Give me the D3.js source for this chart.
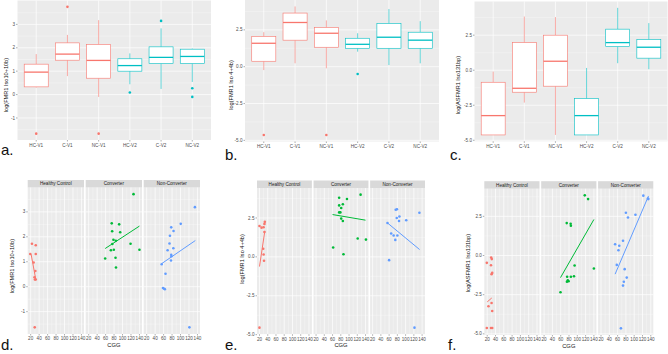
<!DOCTYPE html>
<html>
<head>
<meta charset="utf-8">
<script src="https://cdn.jsdelivr.net/npm/d3@7"></script>
<style>
  body { margin: 0; background: #fff; }
  svg text { font-family: "Liberation Sans", Arial, sans-serif; }
</style>
</head>
<body>
<svg id="fig" width="668" height="354"></svg>
<script>
// ---- data ----
const cats = ["HC-V1", "C-V1", "NC-V1", "HC-V2", "C-V2", "NC-V2"];
// box stats per category: [lower whisker, q1, median, q3, upper whisker]
const boxA = [[0.30, 0.33, 0.96, 1.30, 1.73], [0.79, 1.47, 1.73, 2.21, 2.55], [-0.10, 0.70, 1.46, 2.14, 3.18],
              [0.44, 1.00, 1.24, 1.53, 1.76], [0.24, 1.33, 1.59, 2.04, 2.83], [0.54, 1.33, 1.63, 1.94, 1.97]];
const outA = [["HC-V1", -1.67], ["C-V1", 3.75], ["NC-V1", -1.67], ["HC-V2", 0.09], ["C-V2", 3.15], ["NC-V2", 0.27], ["NC-V2", -0.10]];
const boxB = [[-0.23, 0.37, 1.59, 2.05, 2.34], [0.23, 1.80, 3.00, 3.64, 4.09], [-0.11, 1.32, 2.27, 2.66, 3.14],
              [1.02, 1.25, 1.52, 1.93, 2.27], [0.11, 1.25, 2.00, 2.93, 3.91], [0.23, 1.25, 1.80, 2.34, 3.09]];
const outB = [["HC-V1", -4.64], ["NC-V1", -4.64], ["HC-V2", -0.50]];
const boxC = [[-4.62, -4.62, -3.24, -0.86, -0.10], [-2.31, -1.57, -1.29, 1.97, 3.83], [-4.62, -1.14, 0.64, 2.50, 3.79],
              [-4.62, -4.62, -3.24, -2.03, 0.16], [0.50, 1.69, 1.97, 2.93, 4.45], [0.07, 0.86, 1.64, 2.19, 3.36]];
const outC = [];

const groups = ["Healthy Control", "Converter", "Non-Converter"];
const cggTicks = [20, 40, 60, 80, 100, 120, 140];
const ticksA = [-1, 0, 1, 2, 3];
const ticks25 = [-5, -2.5, 0, 2.5];

// scatter points [CGG, value] per group
const ptsD = [
  [[23, 1.72], [32, 1.66], [19, 1.31], [32, 1.31], [27, 0.97], [31, 0.63], [29, 0.38], [30, 0.29], [32, 0.29], [29.5, -1.63]],
  [[126, 3.71], [74.5, 2.54], [92, 2.50], [75.5, 2.22], [94.5, 2.18], [78.5, 1.88], [84, 1.84], [76, 1.71], [119, 1.72],
   [79.5, 1.48], [72.5, 1.46], [140, 1.48], [59, 1.13], [83.5, 1.16], [84.5, 0.77]],
  [[134, 3.19], [100.5, 2.52], [78, 2.38], [83.5, 2.23], [75, 2.04], [74, 1.73], [83, 1.54], [69.5, 1.46], [78, 1.28],
   [78.5, 1.22], [77.5, 1.05], [55.5, 0.90], [64.5, 0.52], [58.5, -0.05], [61.5, -0.08], [63, -0.10], [121, -1.63]]
];
const fitD = [[[21, 1.30], [32, 0.30]], [[59, 1.53], [140, 2.43]], [[55, 0.92], [135, 1.85]]];

const ptsE = [
  [[20, 1.98], [25, 1.88], [30, 1.90], [32, 2.12], [33, 2.25], [32, 1.60], [29, 0.52], [30, 0.15], [31, -0.25], [20, -4.55]],
  [[128, 4.00], [76, 3.80], [95, 3.72], [76, 3.31], [85, 3.38], [81, 3.14], [76, 2.86], [79, 2.86], [81, 2.46], [85, 2.31],
   [121, 1.18], [141, 1.11], [61.5, 0.60], [86.5, 0.17]],
  [[133.5, 2.84], [76, 3.03], [79, 3.06], [78.5, 2.50], [85, 2.60], [84, 2.31], [101.5, 2.35], [56, 2.18], [65, 1.50],
   [71, 1.37], [80, 1.37], [75, 1.09], [60, -0.21], [121.5, -4.55]]
];
const fitE = [[[20, -0.62], [33, 1.67]], [[60, 2.72], [140, 2.36]], [[56, 2.18], [134, 0.47]]];

const ptsF = [
  [[19, -0.47], [29.5, -0.13], [31, -0.23], [29, -0.62], [32, -1.11], [30.5, -1.19], [23, -3.24], [30.5, -3.03],
   [32, -3.54], [19, -4.63], [29, -4.63], [32, -4.63]],
  [[118, 3.84], [126, 3.60], [74.5, 2.07], [84, 2.03], [84.5, 1.90], [93.5, -0.64], [140, -0.83], [92, -1.32],
   [84.5, -1.36], [75.5, -1.36], [77, -1.58], [79, -1.64], [75, -1.68], [59.5, -2.35]],
  [[122, 3.82], [133, 3.64], [134, 3.60], [80, 2.73], [85, 2.43], [103, 2.60], [54, 0.72], [64, 0.62], [73, 0.94],
   [62, 0.34], [58, -0.60], [77, -0.87], [82, -1.41], [75, -1.68], [73, -1.92], [68, -4.65]]
];
const fitF = [[[20, -2.96], [31, -2.71]], [[59.5, -1.41], [140, 2.30]], [[54, -1.19], [134.5, 3.80]]];

// ---- styling ----
const boxCol = cats.map(c => c.endsWith("V1") ? "#F8766D" : "#00BFC4");
const grpCol = ["#F8766D", "#00BA38", "#619CFF"];
const panelBg = "#EBEBEB", stripBg = "#D9D9D9", tickCol = "#4D4D4D";

const svg = d3.select("#fig");

function expand(ext) {
  const r = ext[1] - ext[0];
  return [ext[0] - 0.05 * r, ext[1] + 0.05 * r];
}

function minorOf(major, dom) {
  const step = major[1] - major[0];
  const out = [];
  for (let v = major[0] - step / 2; v <= major[major.length - 1] + step / 2 + 1e-9; v += step) {
    if (v >= dom[0] && v <= dom[1]) out.push(v);
  }
  return out;
}

function fmtY(ticks) { return ticks.some(t => !Number.isInteger(t)) ? (t => t.toFixed(1)) : (t => String(t)); }

function yAxisLeft(g, y, ticks, x0) {
  const f = fmtY(ticks);
  ticks.forEach(t => {
    g.append("line").attr("x1", x0 - 1.5).attr("x2", x0).attr("y1", y(t)).attr("y2", y(t))
      .attr("stroke", "#333").attr("stroke-width", 0.4);
    g.append("text").attr("x", x0 - 2.5).attr("y", y(t)).attr("dy", "0.35em")
      .attr("text-anchor", "end").attr("font-size", 4.6).attr("fill", tickCol).text(f(t));
  });
}

function yTitle(g, txt, x, y, size) {
  g.append("text").attr("transform", `translate(${x},${y}) rotate(-90)`)
    .attr("text-anchor", "middle").attr("font-size", size).attr("fill", "#111").text(txt);
}

function letter(txt, x, y) {
  svg.append("text").attr("x", x).attr("y", y).attr("font-size", 15).attr("fill", "#111").text(txt);
}

// ---- boxplot panel ----
function boxPanel(cfg) {
  const g = svg.append("g");
  const vals = cfg.stats.flat().concat(cfg.outs.map(d => d[1]));
  const dom = expand(d3.extent(vals));
  const x = d3.scalePoint().domain(cats).range([cfg.x0, cfg.x1]).padding(0.6);
  const y = d3.scaleLinear().domain(dom).range([cfg.y1, cfg.y0]);
  const bw = x.step() * 0.77;

  g.append("rect").attr("x", cfg.x0).attr("y", cfg.y0).attr("width", cfg.x1 - cfg.x0)
    .attr("height", cfg.y1 - cfg.y0).attr("fill", panelBg);
  minorOf(cfg.ticks, dom).forEach(t => g.append("line").attr("x1", cfg.x0).attr("x2", cfg.x1)
    .attr("y1", y(t)).attr("y2", y(t)).attr("stroke", "#fff").attr("stroke-width", 0.3));
  cfg.ticks.forEach(t => g.append("line").attr("x1", cfg.x0).attr("x2", cfg.x1)
    .attr("y1", y(t)).attr("y2", y(t)).attr("stroke", "#fff").attr("stroke-width", 0.7));
  cats.forEach(c => g.append("line").attr("x1", x(c)).attr("x2", x(c))
    .attr("y1", cfg.y0).attr("y2", cfg.y1).attr("stroke", "#fff").attr("stroke-width", 0.7));

  cfg.stats.forEach((s, i) => {
    const cx = x(cats[i]), col = boxCol[i];
    const bx = g.append("g").attr("stroke", col).attr("stroke-width", 0.6);
    bx.append("line").attr("x1", cx).attr("x2", cx).attr("y1", y(s[4])).attr("y2", y(s[3]));
    bx.append("line").attr("x1", cx).attr("x2", cx).attr("y1", y(s[1])).attr("y2", y(s[0]));
    bx.append("rect").attr("x", cx - bw / 2).attr("y", y(s[3])).attr("width", bw)
      .attr("height", Math.max(0.01, y(s[1]) - y(s[3]))).attr("fill", "#fff");
    bx.append("line").attr("x1", cx - bw / 2).attr("x2", cx + bw / 2).attr("y1", y(s[2])).attr("y2", y(s[2]))
      .attr("stroke-width", 1.3);
  });
  g.selectAll(null).data(cfg.outs).join("circle")
    .attr("cx", d => x(d[0])).attr("cy", d => y(d[1])).attr("r", 1.3)
    .attr("fill", d => boxCol[cats.indexOf(d[0])]);

  cats.forEach(c => {
    g.append("line").attr("x1", x(c)).attr("x2", x(c)).attr("y1", cfg.y1).attr("y2", cfg.y1 + 1.5)
      .attr("stroke", "#333").attr("stroke-width", 0.4);
    g.append("text").attr("x", x(c)).attr("y", cfg.y1 + 6.5).attr("text-anchor", "middle")
      .attr("font-size", 4.6).attr("fill", tickCol).text(c);
  });
  yAxisLeft(g, y, cfg.ticks, cfg.x0);
  yTitle(g, cfg.title, cfg.tx, cfg.ty, 5.6);
}

// ---- faceted scatter panel ----
function facetPanel(cfg) {
  const g = svg.append("g");
  const allPts = cfg.pts.flat();
  const yDom = expand(d3.extent(allPts, d => d[1]));
  const xDom = expand(d3.extent(allPts, d => d[0]));
  const gap = 1.7, stripH = 7.5;
  const fw = (cfg.x1 - cfg.x0 - 2 * gap) / 3;
  const y = d3.scaleLinear().domain(yDom).range([cfg.y1, cfg.y0]);
  const xMinor = minorOf(cggTicks, xDom);
  const yMinor = minorOf(cfg.ticks, yDom);

  groups.forEach((name, i) => {
    const fx = cfg.x0 + i * (fw + gap);
    const x = d3.scaleLinear().domain(xDom).range([fx, fx + fw]);
    const f = g.append("g");
    f.append("rect").attr("x", fx).attr("y", cfg.y0).attr("width", fw).attr("height", cfg.y1 - cfg.y0).attr("fill", panelBg);
    f.append("rect").attr("x", fx).attr("y", cfg.y0 - stripH).attr("width", fw).attr("height", stripH).attr("fill", stripBg);
    f.append("text").attr("x", fx + fw / 2).attr("y", cfg.y0 - stripH / 2).attr("dy", "0.35em")
      .attr("text-anchor", "middle").attr("font-size", 4.6).attr("fill", "#1A1A1A").text(name);

    yMinor.forEach(t => f.append("line").attr("x1", fx).attr("x2", fx + fw).attr("y1", y(t)).attr("y2", y(t))
      .attr("stroke", "#fff").attr("stroke-width", 0.3));
    xMinor.forEach(t => f.append("line").attr("x1", x(t)).attr("x2", x(t)).attr("y1", cfg.y0).attr("y2", cfg.y1)
      .attr("stroke", "#fff").attr("stroke-width", 0.3));
    cfg.ticks.forEach(t => f.append("line").attr("x1", fx).attr("x2", fx + fw).attr("y1", y(t)).attr("y2", y(t))
      .attr("stroke", "#fff").attr("stroke-width", 0.7));
    cggTicks.forEach(t => {
      f.append("line").attr("x1", x(t)).attr("x2", x(t)).attr("y1", cfg.y0).attr("y2", cfg.y1)
        .attr("stroke", "#fff").attr("stroke-width", 0.7);
      f.append("line").attr("x1", x(t)).attr("x2", x(t)).attr("y1", cfg.y1).attr("y2", cfg.y1 + 1.5)
        .attr("stroke", "#333").attr("stroke-width", 0.4);
      f.append("text").attr("x", x(t)).attr("y", cfg.y1 + 6.2).attr("text-anchor", "middle")
        .attr("font-size", 4.6).attr("fill", tickCol).text(t);
    });

    f.selectAll(null).data(cfg.pts[i]).join("circle")
      .attr("cx", d => x(d[0])).attr("cy", d => y(d[1])).attr("r", 1.3).attr("fill", grpCol[i]);
    f.append("path").datum(cfg.fit[i])
      .attr("d", d3.line().x(d => x(d[0])).y(d => y(d[1])))
      .attr("stroke", grpCol[i]).attr("stroke-width", 1).attr("fill", "none");
  });

  yAxisLeft(g, y, cfg.ticks, cfg.x0);
  yTitle(g, cfg.title, cfg.tx, cfg.ty, 5.6);
  g.append("text").attr("x", (cfg.x0 + cfg.x1) / 2).attr("y", cfg.y1 + 12.5).attr("text-anchor", "middle")
    .attr("font-size", 5.8).attr("fill", "#111").text("CGG");
}

// ---- layout ----
boxPanel({ stats: boxA, outs: outA, ticks: ticksA, x0: 17.5, x1: 211, y0: 0.5, y1: 140,
           title: "log(FMR1 Iso10+10b)", tx: 7.5, ty: 85 });
boxPanel({ stats: boxB, outs: outB, ticks: ticks25, x0: 245, x1: 439, y0: 0, y1: 141.5,
           title: "log(FMR1 Iso 4+4b)", tx: 232.5, ty: 85 });
boxPanel({ stats: boxC, outs: outC, ticks: ticks25, x0: 474.5, x1: 667.5, y0: 1.5, y1: 141.3,
           title: "log(ASFMR1 Iso131bp)", tx: 459.5, ty: 85 });

facetPanel({ pts: ptsD, fit: fitD, ticks: ticksA, x0: 27.7, x1: 200, y0: 187.5, y1: 334,
             title: "log(FMR1 Iso10+10b)", tx: 14, ty: 266 });
facetPanel({ pts: ptsE, fit: fitE, ticks: ticks25, x0: 257, x1: 425, y0: 188, y1: 334.3,
             title: "log(FMR1 Iso 4+4b)", tx: 243.5, ty: 259 });
facetPanel({ pts: ptsF, fit: fitF, ticks: ticks25, x0: 484.3, x1: 653.3, y0: 188.7, y1: 335,
             title: "log(ASFMR1 Iso131bp)", tx: 469.5, ty: 263 });

letter("a.", 1, 155);
letter("b.", 225, 160);
letter("c.", 450, 160);
letter("d.", 1, 350);
letter("e.", 225, 350);
letter("f.", 448, 350);
</script>
</body>
</html>
